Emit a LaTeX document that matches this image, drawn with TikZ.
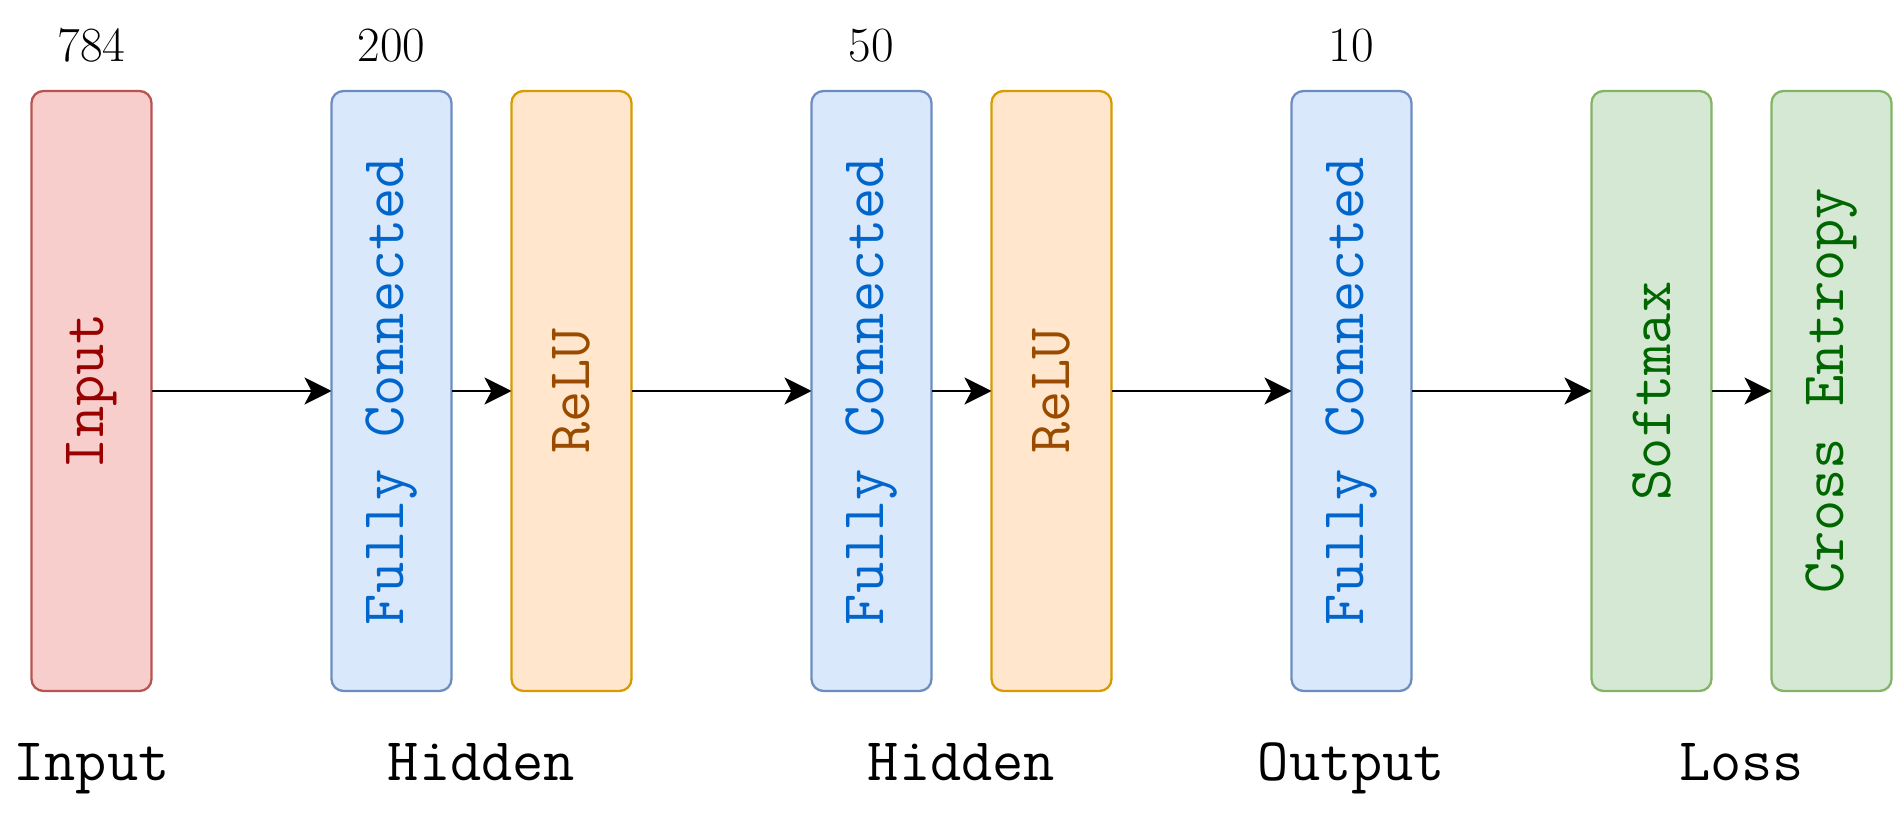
\documentclass[tikz,border=0pt]{standalone}
\usepackage{xcolor}
\usepackage{graphicx}
\usepackage{fontspec}
\usepackage{tikz}
\usetikzlibrary{arrows.meta,positioning,calc}

\definecolor{inpfill}{HTML}{F8CECC}
\definecolor{inpline}{HTML}{B85450}
\definecolor{inptext}{HTML}{990000}
\definecolor{fcfill}{HTML}{DAE8FC}
\definecolor{fcline}{HTML}{6C8EBF}
\definecolor{fctext}{HTML}{0066CC}
\definecolor{actfill}{HTML}{FFE6CC}
\definecolor{actline}{HTML}{D79B00}
\definecolor{acttext}{HTML}{994C00}
\definecolor{lossfill}{HTML}{D5E8D4}
\definecolor{lossline}{HTML}{82B366}
\definecolor{losstext}{HTML}{006600}

\begin{document}
\begin{tikzpicture}[node distance=1.2cm,
    layer/.style={rectangle, rounded corners=0.24cm, line width=1.3pt, outer sep=0pt, minimum width=2.4cm, minimum height=12cm, inner sep=0pt, font=\fontsize{34.5}{40}\selectfont\ttfamily},
    inp/.style={layer, draw=inpline, fill=inpfill, text=inptext},
    fc/.style={layer, draw=fcline, fill=fcfill, text=fctext},
    act/.style={layer, draw=actline, fill=actfill, text=acttext},
    loss/.style={layer, draw=lossline, fill=lossfill, text=losstext},
    num/.style={inner sep=0pt, font=\fontsize{28}{34}\selectfont},
    lbl/.style={inner sep=0pt, anchor=base, font=\fontsize{34.5}{40}\selectfont\ttfamily},
    arrow/.style={-{Stealth[length=0.54cm, width=0.54cm, inset=0.14cm]}, line width=1.7pt}]

    \useasboundingbox (0,0) rectangle (37.86,-16.26);

    % Input layer
    \node[inp] (input) at (1.83,-7.82) {\rotatebox{90}{Input}};

    % Hidden layers
    \node[fc, right=3.6cm of input] (fc1) {\rotatebox{90}{Fully Connected}};
    \node[act, right=of fc1] (relu1) {\rotatebox{90}{ReLU}};
    \node[fc, right=3.6cm of relu1] (fc2) {\rotatebox{90}{Fully Connected}};
    \node[act, right=of fc2] (relu2) {\rotatebox{90}{ReLU}};

    % Output layer
    \node[fc, right=3.6cm of relu2] (fc3) {\rotatebox{90}{Fully Connected}};

    % Loss
    \node[loss, right=3.6cm of fc3] (softmax) {\rotatebox{90}{Softmax}};
    \node[loss, right=of softmax] (xent) {\rotatebox{90}{Cross Entropy}};

    % Arrows
    \draw[arrow] (input) -- (fc1);
    \draw[arrow] (fc1) -- (relu1);
    \draw[arrow] (relu1) -- (fc2);
    \draw[arrow] (fc2) -- (relu2);
    \draw[arrow] (relu2) -- (fc3);
    \draw[arrow] (fc3) -- (softmax);
    \draw[arrow] (softmax) -- (xent);

    % Sizes
    \node[num, above=0.56cm of input] (n784) {784};
    \node[num, above=0.56cm of fc1] (n200) {200};
    \node[num, above=0.56cm of fc2] (n50) {50};
    \node[num, above=0.56cm of fc3] (n10) {10};

    % Labels
    \node[lbl] (linput) at ($(input.south)+(0,-1.78)$) {Input};
    \node[lbl] (lhid1) at ($(fc1.south)!0.5!(relu1.south)+(0,-1.78)$) {Hidden};
    \node[lbl] (lhid2) at ($(fc2.south)!0.5!(relu2.south)+(0,-1.78)$) {Hidden};
    \node[lbl] (loutput) at ($(fc3.south)+(0,-1.78)$) {Output};
    \node[lbl] (lloss) at ($(softmax.south)!0.5!(xent.south)+(0,-1.78)$) {Loss};

\end{tikzpicture}
\end{document}
